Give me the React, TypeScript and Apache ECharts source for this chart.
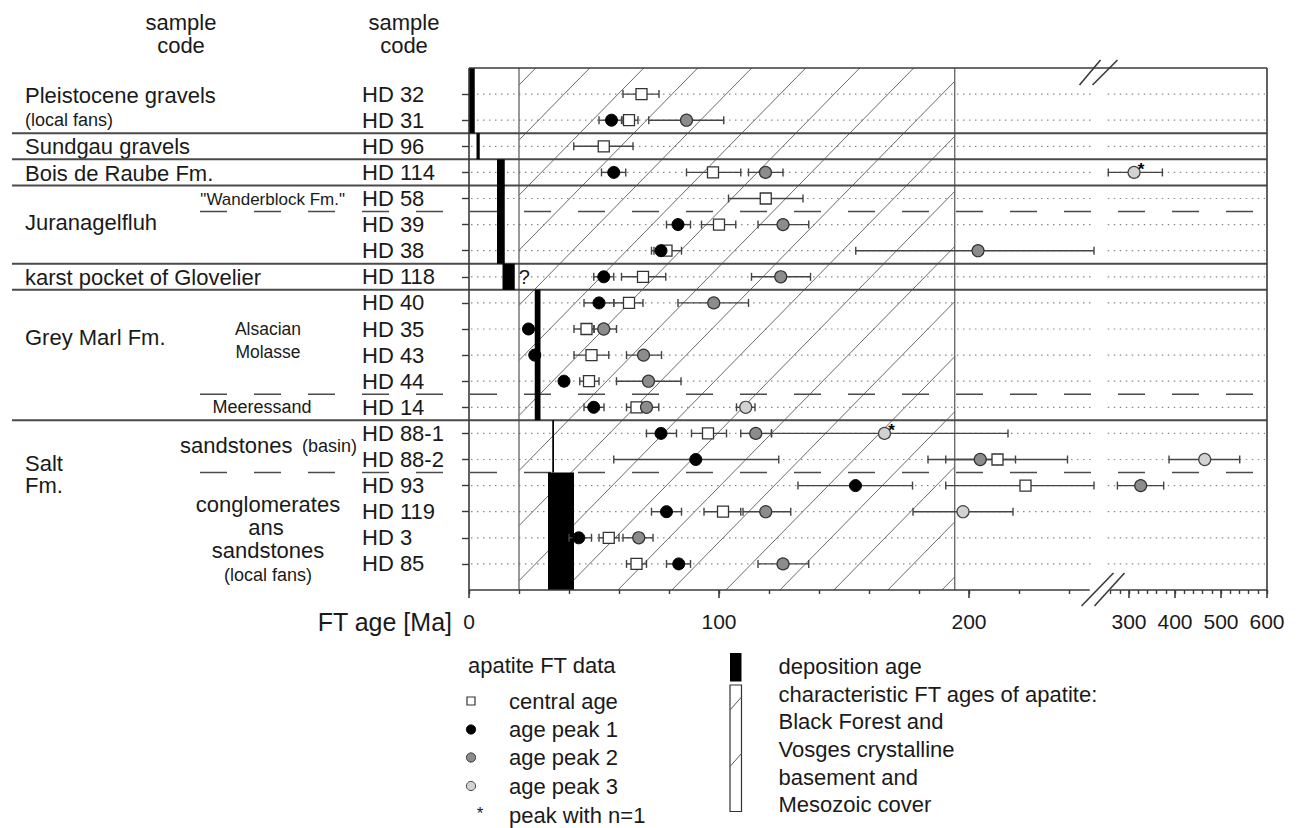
import { useEffect, useRef } from "react";
import * as echarts from "echarts";

const FONT = '"Liberation Sans", Arial, Helvetica, sans-serif';

// ---------- data ----------
const samples = ["HD 32", "HD 31", "HD 96", "HD 114", "HD 58", "HD 39", "HD 38", "HD 118", "HD 40", "HD 35", "HD 43", "HD 44", "HD 14", "HD 88-1", "HD 88-2", "HD 93", "HD 119", "HD 3", "HD 85"];

const centralAge = [69, 64, 53.9, 97.6, 118.7, 100, 79, 69.6, 64, 47, 49, 48, 67, 95.6, 211.4, 222.6, 101.6, 55.9, 67];
const centralLo = [61.6, 61.6, 41.9, 87, 103.8, 93, 74, 61, 57.9, 42, 42, 44.3, 63, 89, 190.7, 190.7, 94, 52, 63];
const centralHi = [76, 67.6, 65.6, 108.7, 133.6, 106.7, 85, 78.7, 69.6, 50, 55.9, 52, 71, 103, 239.4, 250, 108.7, 60, 71];

const peak1Age = [null, 57, null, 57.9, null, 83.6, 76.8, 53.9, 52, 23.8, 26.3, 38, 49.9, 76.8, 90.7, 154.6, 79, 43.9, 83.9];
const peak1Lo = [null, 52, null, 53, null, 79, 73, 49.9, 46, null, null, null, 46, 71, 57.9, 131.6, 73, 40, 79];
const peak1Hi = [null, 61, null, 62.7, null, 88.6, 80, 57.9, 57.9, null, null, null, 54, 83, 123.9, 177.4, 85, 49, 88.6];

const peak2Age = [null, 87, null, 118.6, null, 125.6, 203.6, 124.7, 97.9, 53.9, 69.8, 71.8, 71, 114.7, 204.5, 325.4, 118.7, 67.9, 125.6];
const peak2Lo = [null, 71.9, null, 111.8, null, 115.6, 154.7, 113, 83.6, 50, 63, 59, 67, 108.7, 183.6, 274.8, 109.6, 61.6, 115.6];
const peak2Hi = [null, 101.9, null, 125.6, null, 135.9, 250, 136.6, 111.8, 59, 77, 84.8, 75.9, 121, 218.6, 375.4, 128.7, 73.6, 135.9];

const peak3Age = [null, null, null, 311, null, null, null, null, null, null, null, null, 110.7, 166.2, 464.6, null, 197.6, null, null];
const peak3Lo = [null, null, null, 255, null, null, null, null, null, null, null, null, 107, 121, 387, null, 177.6, null, null];
const peak3Hi = [null, null, null, 372.6, null, null, null, null, null, null, null, null, 114.4, 215.6, 540.7, null, 217.6, null, null];
const peak3SingleGrain = [false, false, false, true, false, false, false, false, false, false, false, false, false, true, false, false, false, false, false];

// deposition ages (black bars) per unit, with the rows they cover
const depoAgeMin = [0, 3, 11.2, 13.4, 26.3, 33.3, 31.6];
const depoAgeMax = [2.3, 4.3, 14.3, 18.3, 28.6, 34, 42];
const depoRowFrom = [-1, 1.5, 2.5, 6.5, 7.5, 12.5, 14.5];
const depoRowTo = [1.5, 2.5, 6.5, 7.5, 12.5, 14.5, 19];
const depoNote = ["", "", "", "?", "", "", ""];

// characteristic basement FT ages (hatched band)
const basementAges = [20, 194.3];

// boundaries between units (solid) and sub-units (dashed), in row units
const unitBoundaries = [1.5, 2.5, 3.5, 6.5, 7.5, 12.5];
const subUnitBoundaries = [4.5, 11.5, 14.5];

// axis ticks (Ma)
const majorTicks = [0, 100, 200, 300, 400, 500, 600];
const majorTickLabels = ["0", "100", "200", "300", "400", "500", "600"];
const minorTicks = [0, 20, 40, 60, 80, 100, 120, 140, 160, 180, 200, 220, 240, 260, 280, 300, 320, 340, 360, 380, 400, 420, 440, 460, 480, 500, 520, 540, 560, 580, 600];

// ---------- scale: linear to 250 Ma, compressed beyond the break ----------
const tx = (age: number) => (age <= 252 ? age : 264 + (age - 300) * 0.184);
const X_MAX = tx(600);
const BREAK_U = [249.5, 255.5];
const Y_MIN = -1;
const Y_MAX = 19;

const LINE = "#3a3a3a";

function seg(x1: number, y1: number, x2: number, y2: number, style: any) {
  return { type: "line", shape: { x1, y1, x2, y2 }, style };
}

function errData(lo: (number | null)[], hi: (number | null)[]) {
  const out: number[][] = [];
  lo.forEach((l, i) => {
    const h = hi[i];
    if (l != null && h != null) out.push([tx(l), tx(h), i]);
  });
  return out;
}
function ptData(v: (number | null)[]) {
  const out: number[][] = [];
  v.forEach((a, i) => {
    if (a != null) out.push([tx(a), i]);
  });
  return out;
}

const errStyle = { stroke: "#444", lineWidth: 1.4 };
function errorSeries(lo: (number | null)[], hi: (number | null)[]) {
  return {
    type: "custom",
    z: 5,
    silent: true,
    encode: { x: [0, 1], y: 2 },
    data: errData(lo, hi),
    renderItem: (params: any, api: any) => {
      const a = api.coord([api.value(0), api.value(2)]);
      const b = api.coord([api.value(1), api.value(2)]);
      const y = a[1];
      return {
        type: "group",
        children: [
          seg(a[0], y, b[0], y, errStyle),
          seg(a[0], y - 4, a[0], y + 4, errStyle),
          seg(b[0], y - 4, b[0], y + 4, errStyle),
        ],
      };
    },
  };
}

function txt(text: string, x: number, y: number, size = 22, align = "left") {
  return {
    type: "text",
    x,
    y,
    silent: true,
    style: {
      text,
      fontSize: size,
      fontFamily: FONT,
      fill: "#1a1a1a",
      align,
      verticalAlign: "middle",
      textAlign: align,
      textVerticalAlign: "middle",
    },
  };
}

function buildOption() {
  const series: any[] = [];

  // dotted row guide lines
  series.push({
    type: "custom",
    z: 1,
    silent: true,
    encode: { x: 0, y: 1 },
    data: samples.map((_, i) => [0, i]),
    renderItem: (params: any, api: any) => {
      const i = api.value(1);
      const st = { stroke: "#8a8a8a", lineWidth: 1.2, lineDash: [1.5, 4.5] };
      const a = api.coord([0, i]);
      const b = api.coord([BREAK_U[0], i]);
      const c = api.coord([BREAK_U[1], i]);
      const d = api.coord([X_MAX, i]);
      return { type: "group", children: [seg(a[0] + 2, a[1], b[0], b[1], st), seg(c[0], c[1], d[0] - 2, d[1], st)] };
    },
  });

  // hatched basement band
  series.push({
    type: "custom",
    z: 2,
    silent: true,
    encode: { x: [0, 1] },
    data: [[tx(basementAges[0]), tx(basementAges[1])]],
    renderItem: (params: any, api: any) => {
      const p1 = api.coord([api.value(0), Y_MIN]);
      const p2 = api.coord([api.value(1), Y_MAX]);
      const xL = p1[0], yT = p1[1], xR = p2[0], yB = p2[1];
      const H = yB - yT;
      const s = 1.02;
      const st = { stroke: "#6a6a6a", lineWidth: 1 };
      const children: any[] = [seg(xL, yT, xL, yB, { stroke: "#555", lineWidth: 1.2 }), seg(xR, yT, xR, yB, { stroke: "#555", lineWidth: 1.2 })];
      for (let k = 0; k < 40; k++) {
        const xTop = xL + 16.7 + 54 * k;
        const xBot = xTop - H / s;
        if (xBot > xR) break;
        let sx = xTop, sy = yT;
        if (xTop > xR) { sx = xR; sy = yT + (xTop - xR) * s; }
        let ex = xBot, ey = yB;
        if (xBot < xL) { ex = xL; ey = yT + (xTop - xL) * s; }
        if (sy >= yB) continue;
        children.push(seg(sx, sy, ex, ey, st));
      }
      return { type: "group", children };
    },
  });

  // unit boundaries (solid) from label column across the plot
  series.push({
    type: "custom",
    z: 3,
    silent: true,
    encode: { x: 0, y: 1 },
    data: unitBoundaries.map((r) => [0, r]),
    renderItem: (params: any, api: any) => {
      const cs = params.coordSys;
      const y = api.coord([0, api.value(1)])[1];
      return seg(12, y, cs.x + cs.width, y, { stroke: "#4a4a4a", lineWidth: 2 });
    },
  });

  // sub-unit boundaries (dashed)
  series.push({
    type: "custom",
    z: 3,
    silent: true,
    encode: { x: 0, y: 1 },
    data: subUnitBoundaries.map((r) => [0, r]),
    renderItem: (params: any, api: any) => {
      const cs = params.coordSys;
      const y = api.coord([0, api.value(1)])[1];
      return seg(200, y, cs.x + cs.width, y, { stroke: "#4a4a4a", lineWidth: 1.5, lineDash: [27, 27] });
    },
  });

  // deposition age bars
  series.push({
    type: "custom",
    z: 4,
    silent: true,
    encode: { x: [0, 1], y: [2, 3] },
    data: depoAgeMin.map((m, i) => [tx(m), tx(depoAgeMax[i]), depoRowFrom[i], depoRowTo[i], i]),
    renderItem: (params: any, api: any) => {
      const a = api.coord([api.value(0), api.value(2)]);
      const b = api.coord([api.value(1), api.value(3)]);
      const idx = api.value(4);
      const children: any[] = [
        { type: "rect", shape: { x: a[0], y: a[1], width: b[0] - a[0], height: b[1] - a[1] }, style: { fill: "#000" } },
      ];
      if (depoNote[idx]) {
        children.push({
          type: "text",
          style: { text: depoNote[idx], x: b[0] + 4, y: (a[1] + b[1]) / 2, fontSize: 20, fontFamily: FONT, fill: "#1a1a1a", align: "left", verticalAlign: "middle" },
        });
      }
      return { type: "group", children };
    },
  });

  // error bars
  series.push(errorSeries(centralLo, centralHi));
  series.push(errorSeries(peak1Lo, peak1Hi));
  series.push(errorSeries(peak2Lo, peak2Hi));
  series.push(errorSeries(peak3Lo, peak3Hi));

  // points (squares below circles)
  series.push({
    name: "central age",
    type: "scatter",
    z: 6,
    symbol: "rect",
    symbolSize: 11,
    itemStyle: { color: "#fff", borderColor: "#333", borderWidth: 1.3, opacity: 1 },
    data: ptData(centralAge),
  });
  series.push({
    name: "age peak 1",
    type: "scatter",
    z: 7,
    symbol: "circle",
    symbolSize: 12,
    itemStyle: { color: "#000", borderColor: "#000", borderWidth: 1, opacity: 1 },
    data: ptData(peak1Age),
  });
  series.push({
    name: "age peak 2",
    type: "scatter",
    z: 7,
    symbol: "circle",
    symbolSize: 12,
    itemStyle: { color: "#8c8c8c", borderColor: "#333", borderWidth: 1.2, opacity: 1 },
    data: ptData(peak2Age),
  });
  series.push({
    name: "age peak 3",
    type: "scatter",
    z: 7,
    symbol: "circle",
    symbolSize: 12,
    itemStyle: { color: "#d2d2d2", borderColor: "#444", borderWidth: 1.2, opacity: 1 },
    data: ptData(peak3Age),
  });

  // single-grain asterisks
  series.push({
    type: "custom",
    z: 8,
    silent: true,
    encode: { x: 0, y: 1 },
    data: ptData(peak3Age.map((a, i) => (peak3SingleGrain[i] ? a : null))),
    renderItem: (params: any, api: any) => {
      const p = api.coord([api.value(0), api.value(1)]);
      return {
        type: "text",
        style: { text: "*", x: p[0] + 7, y: p[1] - 3, fontSize: 17, fontWeight: "bold", fontFamily: FONT, fill: "#000", align: "center", verticalAlign: "middle" },
      };
    },
  });

  // frame with axis break
  series.push({
    type: "custom",
    z: 9,
    silent: true,
    encode: { x: 0, y: 1 },
    data: [[0, 0]],
    renderItem: (params: any, api: any) => {
      const cs = params.coordSys;
      const x0 = cs.x, x1 = cs.x + cs.width, y0 = cs.y, y1 = cs.y + cs.height;
      const bA = api.coord([BREAK_U[0], 0])[0];
      const bB = api.coord([BREAK_U[1], 0])[0];
      const xb = api.coord([(BREAK_U[0] + BREAK_U[1]) / 2 + 0.5, 0])[0];
      const st = { stroke: LINE, lineWidth: 1.6 };
      return {
        type: "group",
        children: [
          seg(x0, y0, x1, y0, st),
          seg(x0, y0, x0, y1, st),
          seg(x1, y0, x1, y1, st),
          seg(x0, y1, bA - 3, y1, st),
          seg(bB + 3, y1, x1, y1, st),
          seg(xb - 22, y0 + 17, xb - 1, y0 - 8, st),
          seg(xb - 9, y0 + 17, xb + 16, y0 - 8, st),
          seg(xb - 20, y1 + 16, xb + 12, y1 - 17, st),
          seg(xb - 7, y1 + 16, xb + 23, y1 - 17, st),
        ],
      };
    },
  });

  const labelFor = (v: number) => {
    const k = majorTicks.findIndex((t) => Math.abs(tx(t) - v) < 1e-6);
    return k >= 0 ? majorTickLabels[k] : "";
  };

  const legendGraphics: any[] = [
    // column headers
    txt("sample", 181, 22, 22, "center"),
    txt("code", 181, 45, 22, "center"),
    txt("sample", 404, 22, 22, "center"),
    txt("code", 404, 45, 22, "center"),
    // units
    txt("Pleistocene gravels", 25, 95),
    txt("(local fans)", 25, 119.5, 18),
    txt("Sundgau gravels", 25, 146.5),
    txt("Bois de Raube Fm.", 25, 173),
    txt('"Wanderblock Fm."', 345, 199.5, 17, "right"),
    txt("Juranagelfluh", 25, 222),
    txt("karst pocket of Glovelier", 25, 277),
    txt("Grey Marl Fm.", 25, 337.5),
    txt("Alsacian", 268, 329, 17.5, "center"),
    txt("Molasse", 268, 351.5, 17.5, "center"),
    txt("Meeressand", 262, 407, 18, "center"),
    txt("Salt", 25, 463),
    txt("Fm.", 25, 485.5),
    txt("sandstones", 180, 445),
    txt("(basin)", 302, 446, 18),
    txt("conglomerates", 268, 504, 22, "center"),
    txt("ans", 266, 527, 22, "center"),
    txt("sandstones", 268, 550, 22, "center"),
    txt("(local fans)", 268, 574.5, 18, "center"),
    // axis title
    txt("FT age [Ma]", 452, 622, 25, "right"),
    // legend: apatite FT data
    txt("apatite FT data", 468, 665),
    { type: "rect", silent: true, shape: { x: 467, y: 697, width: 8, height: 8 }, style: { fill: "#fff", stroke: "#333", lineWidth: 1.2 } },
    { type: "circle", silent: true, shape: { cx: 471, cy: 729.5, r: 4.6 }, style: { fill: "#000", stroke: "#000", lineWidth: 1 } },
    { type: "circle", silent: true, shape: { cx: 471, cy: 757.5, r: 4.6 }, style: { fill: "#8c8c8c", stroke: "#333", lineWidth: 1 } },
    { type: "circle", silent: true, shape: { cx: 471, cy: 786, r: 4.6 }, style: { fill: "#d2d2d2", stroke: "#444", lineWidth: 1 } },
    txt("*", 480, 813, 17, "center"),
    txt("central age", 509, 701),
    txt("age peak 1", 509, 729.5),
    txt("age peak 2", 509, 757.5),
    txt("age peak 3", 509, 786),
    txt("peak with n=1", 509, 815),
    // legend: deposition / hatch
    { type: "rect", silent: true, shape: { x: 730, y: 653, width: 11.5, height: 28.5 }, style: { fill: "#000" } },
    { type: "rect", silent: true, shape: { x: 730, y: 685, width: 11.5, height: 126.5 }, style: { fill: "#fff", stroke: "#333", lineWidth: 1.2 } },
    { type: "line", silent: true, shape: { x1: 741.5, y1: 697, x2: 730, y2: 710 }, style: { stroke: "#555", lineWidth: 1 } },
    { type: "line", silent: true, shape: { x1: 741.5, y1: 753.5, x2: 730, y2: 766.5 }, style: { stroke: "#555", lineWidth: 1 } },
    txt("deposition age", 778.5, 666),
    txt("characteristic FT ages of apatite:", 778.5, 694.5),
    txt("Black Forest and", 778.5, 721.5),
    txt("Vosges crystalline", 778.5, 749.5),
    txt("basement and", 778.5, 777),
    txt("Mesozoic cover", 778.5, 804.5),
  ];

  const rowIdx = samples.map((_, i) => i);

  return {
    animation: false,
    backgroundColor: "#fff",
    textStyle: { fontFamily: FONT },
    grid: { left: 469, top: 68, width: 798, height: 522, containLabel: false },
    xAxis: [
      {
        type: "value",
        min: 0,
        max: X_MAX,
        position: "bottom",
        axisLine: { show: false, onZero: false },
        splitLine: { show: false },
        axisTick: { show: true, customValues: minorTicks.map(tx), length: 4, lineStyle: { color: LINE, width: 1.4 } },
        axisLabel: { show: false },
      },
      {
        type: "value",
        min: 0,
        max: X_MAX,
        position: "bottom",
        axisLine: { show: false, onZero: false },
        splitLine: { show: false },
        axisTick: { show: true, customValues: majorTicks.map(tx), length: 8, lineStyle: { color: LINE, width: 1.6 } },
        axisLabel: {
          show: true,
          customValues: majorTicks.map(tx),
          formatter: (v: number) => labelFor(v),
          fontSize: 21,
          fontFamily: FONT,
          color: "#1a1a1a",
          margin: 21,
          hideOverlap: false,
          showMinLabel: true,
          showMaxLabel: true,
        },
      },
    ],
    yAxis: {
      type: "value",
      min: Y_MIN,
      max: Y_MAX,
      inverse: true,
      axisLine: { show: false, onZero: false },
      splitLine: { show: false },
      axisTick: { show: true, customValues: rowIdx, length: 7, lineStyle: { color: LINE, width: 1.4 } },
      axisLabel: {
        show: true,
        customValues: rowIdx,
        formatter: (v: number) => samples[Math.round(v)] ?? "",
        align: "left",
        margin: 107,
        fontSize: 22,
        fontFamily: FONT,
        color: "#1a1a1a",
      },
    },
    series,
    graphic: { elements: legendGraphics },
  };
}

export default function App() {
  const ref = useRef<HTMLDivElement>(null);
  useEffect(() => {
    if (!ref.current) return;
    const chart = echarts.init(ref.current, null, { renderer: "svg" });
    chart.setOption(buildOption() as any);
    return () => chart.dispose();
  }, []);
  return (
    <div
      ref={ref}
      style={{ position: "fixed", left: 0, top: 0, width: 1306, height: 828, background: "#fff" }}
    />
  );
}
